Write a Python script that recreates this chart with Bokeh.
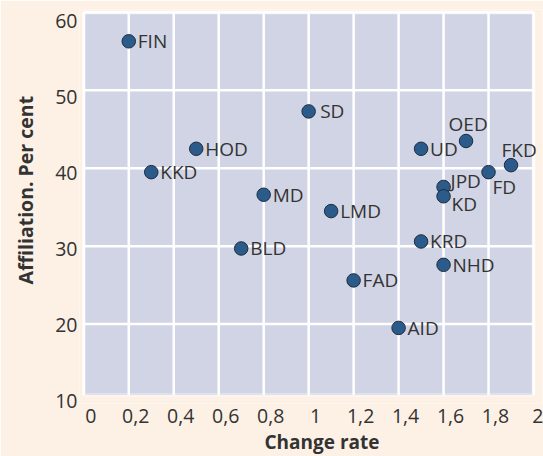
from bokeh.plotting import figure
from bokeh.models import (Range1d, LinearAxis, FixedTicker, BoxAnnotation,
                          ColumnDataSource, Title, CustomJSTickFormatter)
from bokeh.core.properties import value
from bokeh.embed import file_html
from bokeh.resources import INLINE

# ---------------- data ----------------
parties = ["FIN", "KKD", "HOD", "MD", "BLD", "LMD", "SD", "FAD", "AID",
           "UD", "OED", "FKD", "FD", "JPD", "KD", "KRD", "NHD"]
change_rate = [0.2, 0.3, 0.5, 0.8, 0.7, 1.1, 1.0, 1.2, 1.4,
               1.5, 1.7, 1.9, 1.8, 1.6, 1.6, 1.5, 1.6]
affiliation = [56.3, 39.5, 42.5, 36.6, 29.7, 34.5, 47.3, 25.6, 19.5,
               42.5, 43.5, 40.4, 39.5, 37.6, 36.4, 30.6, 27.6]

x_ticks = [0, 0.2, 0.4, 0.6, 0.8, 1, 1.2, 1.4, 1.6, 1.8, 2]
x_tick_labels = ["0", "0,2", "0,4", "0,6", "0,8", "1", "1,2", "1,4", "1,6", "1,8", "2"]
y_ticks = [10, 20, 30, 40, 50, 60]
y_tick_labels = ["10", "20", "30", "40", "50", "60"]
x_title = "Change rate"
y_title = "Affiliation. Per cent"

# ---------------- style / layout ----------------
PEACH = "#fdf1e6"
LAVENDER = "#d1d4e4"
DOT = "#2b5b8b"
DOT_LINE = "#1e2d3d"
TXT = "#333333"
FONT = "Open Sans"

W, H = 543, 456
BOX_L, BOX_R = 83.3, 533          # px positions of x=0 and x=2
Y60, Y10 = 12, 402.4              # px positions of y=60 and y=10
FL, FR, FT, FB = 79, 542, 9, 404  # frame edges (px)
BOX_BOTTOM = 10.88                # plotting panel ends slightly above 10

px_x = (BOX_R - BOX_L) / (x_ticks[-1] - x_ticks[0])
px_y = (Y10 - Y60) / (y_ticks[-1] - y_ticks[0])
x_range = Range1d(x_ticks[0] - (BOX_L - FL) / px_x, x_ticks[-1] + (FR - BOX_R) / px_x)
y_range = Range1d(y_ticks[0] - (FB - Y10) / px_y, y_ticks[-1] + (Y60 - FT) / px_y)

# label ranges (tick labels sit slightly offset from the grid lines)
sx = 7 / px_x
xlab_range = Range1d(x_range.start - sx, x_range.end - sx)
d_top = y_ticks[-1] - 8.7 / px_y
d_bot = y_ticks[0] + 0.7 / px_y
alpha = (d_top - d_bot) / (y_ticks[-1] - y_ticks[0])
beta = d_top - y_ticks[-1] * alpha
ylab_range = Range1d((y_range.start - beta) / alpha, (y_range.end - beta) / alpha)

p = figure(width=W, height=H, x_range=x_range, y_range=y_range,
           x_axis_location=None, y_axis_location=None,
           output_backend="svg", toolbar_location=None,
           min_border_left=FL, min_border_right=W - FR,
           min_border_top=FT, min_border_bottom=H - FB,
           background_fill_color=PEACH, border_fill_color=PEACH,
           outline_line_color=None)
p.grid.visible = False
p.extra_x_ranges = {"xlab": xlab_range}
p.extra_y_ranges = {"ylab": ylab_range}

# plotting panel
box = BoxAnnotation(left=x_ticks[0], right=x_ticks[-1], bottom=BOX_BOTTOM, top=y_ticks[-1],
                    fill_color=LAVENDER, fill_alpha=1, line_color="white", line_width=4,
                    level="underlay")
p.add_layout(box)

# grid lines
p.segment(x0=x_ticks, y0=[BOX_BOTTOM] * len(x_ticks), x1=x_ticks, y1=[y_ticks[-1]] * len(x_ticks),
          line_color="white", line_width=2.5)
gy = y_ticks[1:]
p.segment(x0=[x_ticks[0]] * len(gy), y0=gy, x1=[x_ticks[-1]] * len(gy), y1=gy,
          line_color="white", line_width=2.5)

fmt_code = """
const i = tv.findIndex(t => Math.abs(t - tick) < 1e-9);
return i >= 0 ? tl[i] : '';
"""

xaxis = LinearAxis(x_range_name="xlab", ticker=FixedTicker(ticks=x_ticks),
                   formatter=CustomJSTickFormatter(args=dict(tv=x_ticks, tl=x_tick_labels), code=fmt_code),
                   axis_line_color=None, major_tick_line_color=None, minor_tick_line_color=None,
                   major_tick_out=0, major_tick_in=0, major_label_standoff=5,
                   major_label_text_font=FONT, major_label_text_font_size="19.5px",
                   major_label_text_color=TXT)
p.add_layout(xaxis, "below")

yaxis = LinearAxis(y_range_name="ylab", ticker=FixedTicker(ticks=y_ticks),
                   formatter=CustomJSTickFormatter(args=dict(tv=y_ticks, tl=y_tick_labels), code=fmt_code),
                   axis_line_color=None, major_tick_line_color=None, minor_tick_line_color=None,
                   major_tick_out=0, major_tick_in=0, major_label_standoff=2,
                   major_label_text_font=FONT, major_label_text_font_size="19.5px",
                   major_label_text_color=TXT)
p.add_layout(yaxis, "left")

# axis titles (panels beside the axes)
p.add_layout(Title(text=x_title, align="left", offset=264 - FL, standoff=3,
                   vertical_align="bottom",
                   text_font=FONT, text_font_size="19px", text_font_style="bold",
                   text_color=TXT), "below")
p.add_layout(Title(text=y_title, align="left", offset=FB - 285, standoff=23,
                   vertical_align="top",
                   text_font=FONT, text_font_size="19.5px", text_font_style="bold",
                   text_color=TXT), "left")

# label placement (pixels, relative to the point centre)
LABEL_OFFSETS = {"OED": (-17.5, -17), "FKD": (-9.5, -14.7), "FD": (4, 15),
                 "JPD": (7, -5.6), "KD": (8, 7.7), "SD": (11.5, 0)}
dx = [LABEL_OFFSETS.get(n, (9, 0))[0] for n in parties]
dy = [LABEL_OFFSETS.get(n, (9, 0))[1] for n in parties]

src = ColumnDataSource(dict(x=change_rate, y=affiliation, name=parties, dx=dx, dy=dy))
p.scatter("x", "y", source=src, size=13.5, fill_color=DOT, line_color=DOT_LINE, line_width=1)
p.text("x", "y", text="name", source=src, x_offset="dx", y_offset="dy",
       text_font=value(FONT), text_font_size=value("19px"), text_color=TXT,
       text_align="left", text_baseline="middle")

open("out.html", "w").write(file_html(p, INLINE))
